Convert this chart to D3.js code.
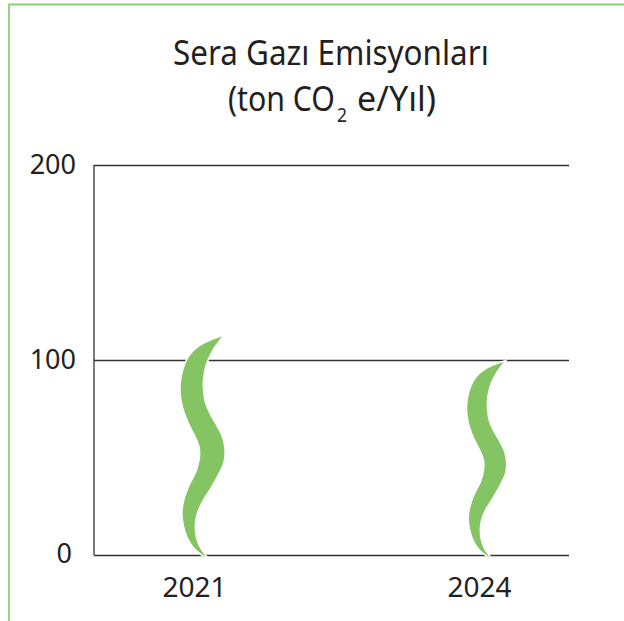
<!DOCTYPE html>
<html>
<head>
<meta charset="utf-8">
<script src="https://cdn.jsdelivr.net/npm/d3@7"></script>
<style>
  html, body { margin: 0; padding: 0; background: #fff; }
  svg { display: block; }
  text { font-family: "Noto Sans", sans-serif; fill: #231f20; }
</style>
</head>
<body>
<div id="chart"></div>
<script>
// Veriler
const years = ['2021', '2024'];
const emissions = [112, 99];
const yTicks = [0, 100, 200];

// Yaprak formu, kendi birimlerinde: [x, y], ust uctan alt uca
const leafLeftEdge = [[186,35],[150,48],[115,67],[88,95],[72,130],[63,175],[63,210],[72,255],[90,300],[110,340],[120,370],[120,400],[110,440],[90,480],[75,520],[68,560],[72,600],[85,640],[105,670],[140,698]];
const leafRightEdge = [[186,35],[160,70],[140,110],[130,150],[128,190],[135,235],[150,270],[170,305],[185,335],[193,375],[190,410],[175,445],[150,490],[125,530],[110,565],[104,600],[108,640],[120,670],[140,698]];
const leafCenter = 102, leafTop = 35, leafSize = 663;

const width = 624, height = 621;
const svg = d3.select('#chart').append('svg')
    .attr('width', width)
    .attr('height', height);

// Yesil cerceve
svg.append('path')
    .attr('d', 'M9,621V4.5H624')
    .attr('fill', 'none')
    .attr('stroke', '#8fcf73')
    .attr('stroke-width', 1.8);

// Baslik: dar yazi tipi yok, yatayda sikistiriliyor
function titlePart(str, left, right, base, size) {
    const t = svg.append('text')
        .style('font-size', size + 'px')
        .text(str);
    const sx = (right - left) / t.node().getComputedTextLength();
    t.attr('transform', `translate(${left},${base}) scale(${sx},1)`);
}
titlePart('Sera Gazı Emisyonları', 173, 489, 65, 34);
titlePart('(ton CO', 228, 335, 111, 34);
titlePart('2', 337, 347, 122, 20);
titlePart('e/Yıl)', 357, 436, 111, 34);

const y = d3.scaleLinear().domain([0, 200]).range([555, 165]);
const x = d3.scalePoint().domain(years).range([194, 479]);
const plotLeft = 94, plotRight = 569;

// Y ekseni ve yatay cizgiler
const yAxis = svg.append('g')
    .attr('transform', `translate(${plotLeft},0)`)
    .call(d3.axisLeft(y).tickValues(yTicks).tickSize(0).tickPadding(18));
yAxis.select('.domain').remove();
yAxis.selectAll('text')
    .style('font-size', '27px')
    .attr('dx', d => d === 0 ? -4 : 0)
    .attr('dy', d => d === 0 ? '0.26em' : '0.33em');
yAxis.selectAll('.tick line')
    .attr('x2', plotRight - plotLeft)
    .attr('stroke', '#333')
    .attr('stroke-width', 1.3);

svg.append('line')
    .attr('x1', plotLeft).attr('x2', plotLeft)
    .attr('y1', y(200)).attr('y2', y(0))
    .attr('stroke', '#333')
    .attr('stroke-width', 1.3);

// X ekseni
const xAxis = svg.append('g')
    .attr('transform', `translate(0,${y(0)})`)
    .call(d3.axisBottom(x).tickSize(0).tickPadding(22));
xAxis.select('.domain').remove();
xAxis.selectAll('text').style('font-size', '28px');

// Yapraklar
years.forEach((year, i) => {
    const top = y(emissions[i]);
    const scale = (y(0) + 2.7 - top) / leafSize;
    const edge = d3.line()
        .curve(d3.curveCatmullRom)
        .x(d => x(year) + (d[0] - leafCenter) * scale)
        .y(d => top + (d[1] - leafTop) * scale);
    const down = edge(leafLeftEdge);
    const up = edge(leafRightEdge.slice().reverse()).replace(/^M[^C]*/, '');
    svg.append('path')
        .attr('d', down + up + 'Z')
        .attr('fill', '#85c462')
        .attr('stroke', '#fff')
        .attr('stroke-width', 3)
        .attr('paint-order', 'stroke');
});
</script>
</body>
</html>
